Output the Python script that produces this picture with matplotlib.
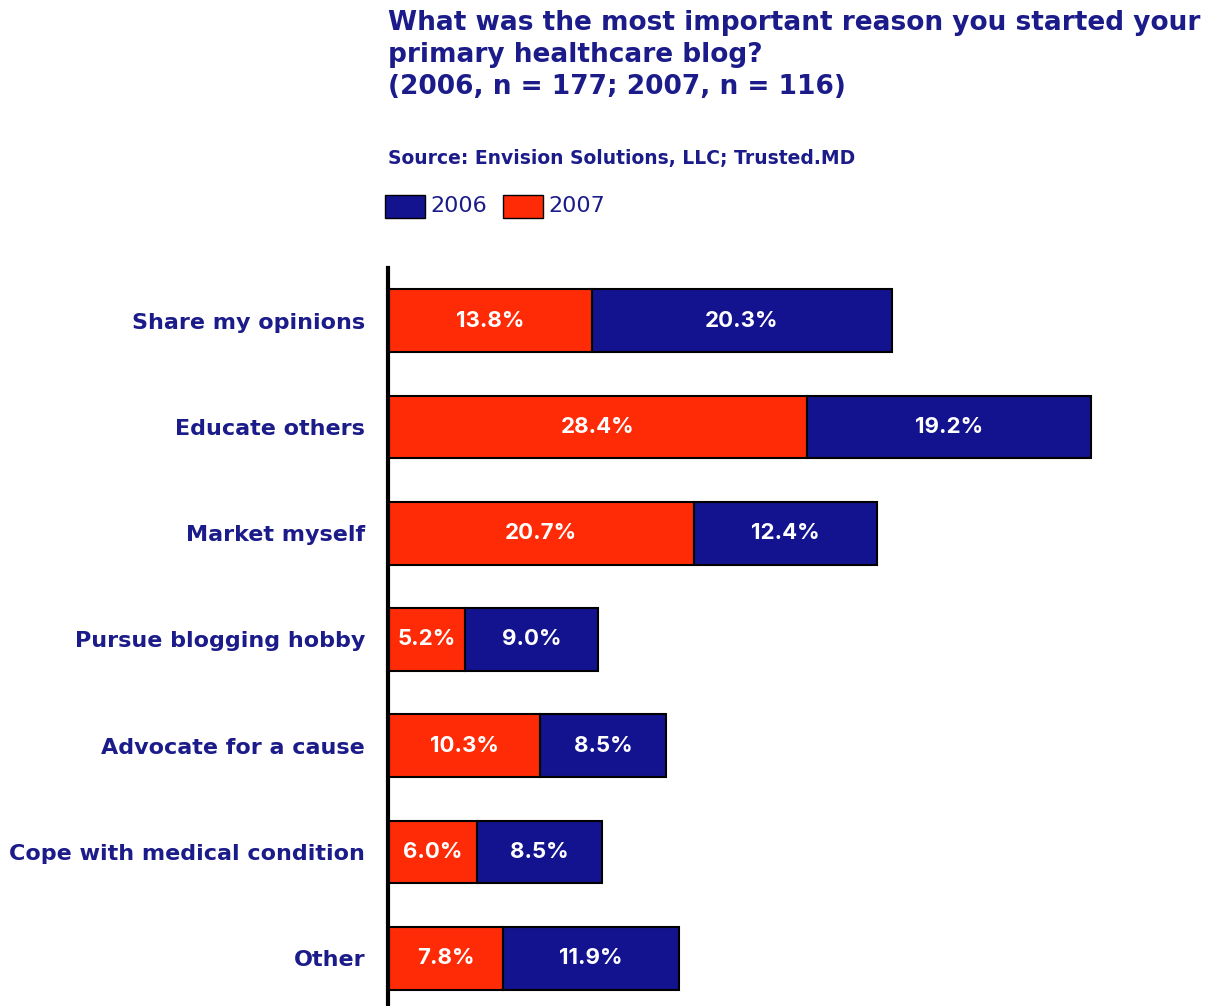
import matplotlib
matplotlib.use('Agg')
import matplotlib.pyplot as plt
from matplotlib.patches import Rectangle

# Reasons for starting the blog, top to bottom
reasons = ['Share my opinions', 'Educate others', 'Market myself',
           'Pursue blogging hobby', 'Advocate for a cause',
           'Cope with medical condition', 'Other']
# Percent of respondents per year
pct_2007 = [13.8, 28.4, 20.7, 5.2, 10.3, 6.0, 7.8]
pct_2006 = [20.3, 19.2, 12.4, 9.0, 8.5, 8.5, 11.9]

NAVY = '#1b1b8a'
BLUE = '#13138f'
RED = '#ff2b06'

fig = plt.figure(figsize=(12.24, 10.06), dpi=100)
ax = fig.add_axes([0.317, 0.0, 0.683, 0.734])

ypos = list(range(len(reasons)))
ax.barh(ypos, pct_2007, height=0.59, color=RED, edgecolor='black', linewidth=1.5)
ax.barh(ypos, pct_2006, left=pct_2007, height=0.59, color=BLUE,
        edgecolor='black', linewidth=1.5)

# value labels inside each segment
for i in ypos:
    ax.text(pct_2007[i] / 2, i, f'{pct_2007[i]:.1f}%', ha='center', va='center',
            color='white', fontsize=16, fontweight='bold', family='Inter')
    ax.text(pct_2007[i] + pct_2006[i] / 2, i, f'{pct_2006[i]:.1f}%', ha='center',
            va='center', color='white', fontsize=16, fontweight='bold',
            family='Inter')

ax.set_xlim(0, 56.6)
ax.set_ylim(len(reasons) - 0.55, -0.5)
ax.set_yticks(ypos)
ax.set_yticklabels(reasons, fontsize=16, fontweight='bold', color=NAVY)
ax.tick_params(axis='y', length=0, pad=16.5)
ax.set_xticks([])
for side in ['top', 'right', 'bottom']:
    ax.spines[side].set_visible(False)
ax.spines['left'].set_linewidth(3)

# title, source and legend
fig.text(0.317, 0.99, 'What was the most important reason you started your\n'
         'primary healthcare blog?\n(2006, n = 177; 2007, n = 116)',
         ha='left', va='top', fontsize=19, fontweight='bold', color=NAVY,
         linespacing=1.3)
fig.text(0.317, 0.842, 'Source: Envision Solutions, LLC; Trusted.MD',
         ha='left', va='center', fontsize=13.5, fontweight='bold', color=NAVY)
for x0, col, lab in [(385, BLUE, '2006'), (503, RED, '2007')]:
    fig.patches.append(Rectangle((x0 / 1224, 1 - 218 / 1006), 40 / 1224, 23 / 1006,
                                 transform=fig.transFigure, facecolor=col,
                                 edgecolor='black', linewidth=1))
    fig.text((x0 + 45) / 1224, 1 - 206 / 1006, lab, ha='left', va='center',
             fontsize=16, color=NAVY)

fig.savefig('out.png', dpi=100)
